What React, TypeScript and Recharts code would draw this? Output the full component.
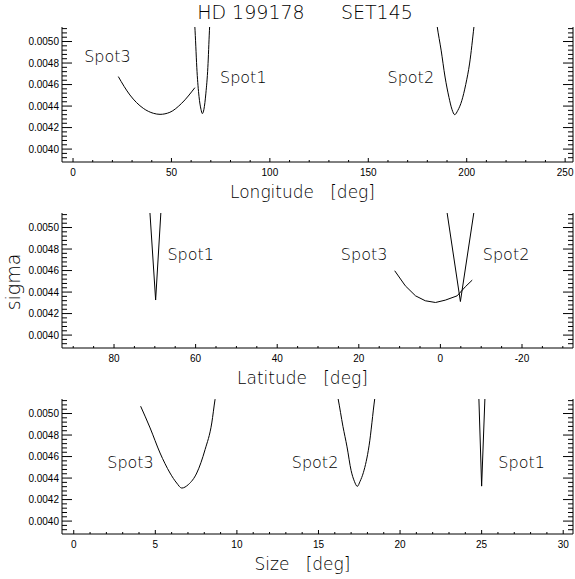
import React from 'react';
import { LineChart, Line, XAxis, YAxis, ReferenceDot } from 'recharts';

// sigma versus longitude, one curve per spot
const lonSpot1 = [61.0, 62.0, 63.0, 64.0, 65.0, 65.7, 66.5, 67.5, 68.5, 69.3, 70.0];
const lonSpot1Sigma = [0.0054, 0.0051, 0.00472, 0.00449, 0.00437, 0.00433, 0.00437, 0.00452, 0.00476, 0.0051, 0.00535];
const lonSpot2 = [183.5, 185.0, 187.0, 189.0, 191.0, 192.5, 193.9, 195.5, 197.5, 199.5, 201.5, 203.7, 205.0];
const lonSpot2Sigma = [0.00535, 0.00514, 0.00492, 0.00467, 0.00448, 0.00437, 0.00432, 0.00436, 0.00445, 0.0046, 0.0048, 0.00514, 0.00535];
const lonSpot3 = [23.0, 28.9, 35.7, 40.8, 44.2, 49.2, 55.2, 61.9];
const lonSpot3Sigma = [0.004674, 0.004503, 0.004379, 0.004333, 0.004323, 0.004342, 0.004426, 0.004571];

// sigma versus latitude
const latSpot1 = [71.8, 69.8, 68.2];
const latSpot1Sigma = [0.00549, 0.004326, 0.00534];
const latSpot2 = [-1.0, -4.9, -9.0];
const latSpot2Sigma = [0.0053, 0.004312, 0.00534];
const latSpot3 = [11.2, 8.6, 6.1, 3.7, 1.2, -1.2, -4.1, -6.1, -7.8];
const latSpot3Sigma = [0.004598, 0.004458, 0.004365, 0.004319, 0.004303, 0.004325, 0.004365, 0.004449, 0.004511];

// sigma versus spot size
const sizeSpot1 = [24.75, 25.0, 25.25];
const sizeSpot1Sigma = [0.00553, 0.004325, 0.00534];
const sizeSpot2 = [15.9, 16.2, 16.5, 16.75, 17.0, 17.2, 17.38, 17.55, 17.75, 18.1, 18.45, 18.7];
const sizeSpot2Sigma = [0.00535, 0.00514, 0.00488, 0.00469, 0.00447, 0.00437, 0.004323, 0.00437, 0.00445, 0.0047, 0.00514, 0.0054];
const sizeSpot3 = [4.1, 4.68, 5.29, 5.9, 6.31, 6.62, 7.02, 7.54, 8.05, 8.46, 8.66, 8.9];
const sizeSpot3Sigma = [0.005068, 0.004866, 0.004633, 0.004447, 0.004354, 0.004307, 0.004339, 0.004447, 0.004665, 0.004912, 0.00513, 0.0053];

// axis ranges and tick labels
const sigmaDomain: [number, number] = [0.00388, 0.005135];
const sigmaMajor = [0.004, 0.0042, 0.0044, 0.0046, 0.0048, 0.005];
const lonDomain: [number, number] = [-5.6, 254];
const lonMajor = [0, 50, 100, 150, 200, 250];
const latDomain: [number, number] = [-32.5, 92.75];
const latMajor = [-20, 0, 20, 40, 60, 80];
const sizeDomain: [number, number] = [-0.72, 30.6];
const sizeMajor = [0, 5, 10, 15, 20, 25, 30];

const W = 575;
const H = 207;
const STEP = 186;
const INK = '#000';
const LABEL_FONT = '"DejaVu Sans", sans-serif';
const LABEL_WEIGHT = 200;
const TICK_FONT = '"Liberation Sans", Arial, sans-serif';

const steps = (start: number, end: number, step: number) =>
  Array.from({ length: Math.round((end - start) / step) + 1 }, (_, i) => +(start + i * step).toFixed(8));

const isMajor = (v: number, majors: number[]) => majors.some((m) => Math.abs(m - v) < 1e-9);

const toPoints = (xs: number[], ss: number[]) => xs.map((x, i) => ({ x, s: ss[i] }));

const sigmaTicks = steps(0.00392, 0.00512, 0.00004);

type Side = 'bottom' | 'top' | 'left' | 'right';

// IDL-style ticks: drawn inward from the frame, labels only on bottom/left majors
const makeTick = (side: Side, majors: number[], fmt?: (v: number) => string) => (props: any) => {
  const { x, y, payload } = props;
  const major = isMajor(payload.value, majors);
  const vertical = side === 'left' || side === 'right';
  const len = vertical ? (major ? 10 : 5) : major ? 4 : 2;
  let x2 = x;
  let y2 = y;
  if (side === 'bottom') y2 = y - len;
  if (side === 'top') y2 = y + len;
  if (side === 'left') x2 = x + len;
  if (side === 'right') x2 = x - len;
  return (
    <g>
      <line x1={x} y1={y} x2={x2} y2={y2} stroke={INK} strokeWidth={1} />
      {major && fmt && side === 'bottom' && (
        <text x={x} y={y + 14} textAnchor="middle" fontFamily={TICK_FONT} fontSize={10} fill={INK}>
          {fmt(payload.value)}
        </text>
      )}
      {major && fmt && side === 'left' && (
        <text x={x - 3} y={y + 3.5} textAnchor="end" fontFamily={TICK_FONT} fontSize={10} fill={INK}>
          {fmt(payload.value)}
        </text>
      )}
    </g>
  );
};

const sigmaFmt = (v: number) => v.toFixed(4);
const intFmt = (v: number) => String(Math.round(v));

interface SpotLabel {
  x: number;
  s: number;
  text: string;
}

interface Curve {
  points: { x: number; s: number }[];
  smooth?: boolean;
}

interface PanelProps {
  top: number;
  xDomain: [number, number];
  reversed?: boolean;
  xMajor: number[];
  xTicks: number[];
  curves: Curve[];
  labels: SpotLabel[];
  xTitle: string;
  yTitle?: string;
}

const Panel = ({ top, xDomain, reversed, xMajor, xTicks, curves, labels, xTitle, yTitle }: PanelProps) => {
  const axisCommon = {
    type: 'number' as const,
    allowDataOverflow: true,
    interval: 0 as const,
    tickSize: 0,
    tickMargin: 0,
    tickLine: false,
    axisLine: { stroke: INK, strokeWidth: 1 },
  };
  return (
    <div style={{ position: 'absolute', left: 0, top, width: W, height: H }}>
      <LineChart width={W} height={H} margin={{ top: 27, right: 0, bottom: 0, left: 0 }}>
        <XAxis
          {...axisCommon}
          xAxisId="b"
          dataKey="x"
          domain={xDomain}
          reversed={reversed}
          ticks={xTicks}
          height={45}
          tick={makeTick('bottom', xMajor, intFmt)}
          label={{
            content: (p: any) => (
              <text
                x={p.viewBox.x + p.viewBox.width / 2 - 15}
                y={p.viewBox.y + 35.5}
                textAnchor="middle"
                fontFamily={LABEL_FONT}
                fontWeight={LABEL_WEIGHT}
                fontSize={17}
                fill={INK}
              >
                {xTitle}
              </text>
            ),
          }}
        />
        <XAxis
          {...axisCommon}
          xAxisId="t"
          orientation="top"
          dataKey="x"
          domain={xDomain}
          reversed={reversed}
          ticks={xTicks}
          height={0}
          tick={makeTick('top', xMajor)}
        />
        <YAxis
          {...axisCommon}
          yAxisId="l"
          domain={sigmaDomain}
          ticks={sigmaTicks}
          width={62}
          tick={makeTick('left', sigmaMajor, sigmaFmt)}
          label={
            yTitle
              ? {
                  content: (p: any) => {
                    const cx = p.viewBox.x + 19.5;
                    const cy = p.viewBox.y + p.viewBox.height / 2 + 1.5;
                    return (
                      <text
                        x={cx}
                        y={cy}
                        transform={`rotate(-90, ${cx}, ${cy})`}
                        textAnchor="middle"
                        fontFamily={LABEL_FONT}
                        fontWeight={LABEL_WEIGHT}
                        fontSize={19}
                        fill={INK}
                      >
                        {yTitle}
                      </text>
                    );
                  },
                }
              : undefined
          }
        />
        <YAxis
          {...axisCommon}
          yAxisId="r"
          orientation="right"
          domain={sigmaDomain}
          ticks={sigmaTicks}
          width={2}
          tick={makeTick('right', sigmaMajor)}
        />
        {curves.map((c, i) => (
          <Line
            key={i}
            xAxisId="b"
            yAxisId="l"
            data={c.points}
            dataKey="s"
            type={c.smooth ? 'monotone' : 'linear'}
            stroke={INK}
            strokeWidth={1}
            dot={false}
            activeDot={false}
            isAnimationActive={false}
          />
        ))}
        {labels.map((l) => (
          <ReferenceDot
            key={l.text}
            xAxisId="b"
            yAxisId="l"
            x={l.x}
            y={l.s}
            r={0}
            fill="none"
            stroke="none"
            label={{
              value: l.text,
              position: 'center',
              fill: INK,
              fontSize: 16,
              fontFamily: LABEL_FONT,
              fontWeight: LABEL_WEIGHT,
            }}
          />
        ))}
      </LineChart>
    </div>
  );
};

const nb = (n: number) => '\u00a0'.repeat(n);

export default function App() {
  return (
    <div style={{ position: 'absolute', left: 0, top: 0, width: W, height: 579, background: '#fff' }}>
      <Panel
        top={0}
        xDomain={lonDomain}
        xMajor={lonMajor}
        xTicks={steps(0, 250, 10)}
        curves={[
          { points: toPoints(lonSpot3, lonSpot3Sigma), smooth: true },
          { points: toPoints(lonSpot1, lonSpot1Sigma), smooth: true },
          { points: toPoints(lonSpot2, lonSpot2Sigma), smooth: true },
        ]}
        labels={[
          { x: 17.5, s: 0.004865, text: 'Spot3' },
          { x: 86.5, s: 0.004666, text: 'Spot1' },
          { x: 171.6, s: 0.004664, text: 'Spot2' },
        ]}
        xTitle={`Longitude${nb(3)}[deg]`}
      />
      <Panel
        top={STEP}
        xDomain={latDomain}
        reversed
        xMajor={latMajor}
        xTicks={steps(-30, 90, 5)}
        curves={[
          { points: toPoints(latSpot1, latSpot1Sigma) },
          { points: toPoints(latSpot3, latSpot3Sigma) },
          { points: toPoints(latSpot2, latSpot2Sigma) },
        ]}
        labels={[
          { x: 61.2, s: 0.004749, text: 'Spot1' },
          { x: 18.7, s: 0.004749, text: 'Spot3' },
          { x: -16.1, s: 0.004749, text: 'Spot2' },
        ]}
        xTitle={`Latitude${nb(3)}[deg]`}
        yTitle="sigma"
      />
      <Panel
        top={STEP * 2}
        xDomain={sizeDomain}
        xMajor={sizeMajor}
        xTicks={steps(0, 30, 1)}
        curves={[
          { points: toPoints(sizeSpot3, sizeSpot3Sigma), smooth: true },
          { points: toPoints(sizeSpot2, sizeSpot2Sigma), smooth: true },
          { points: toPoints(sizeSpot1, sizeSpot1Sigma) },
        ]}
        labels={[
          { x: 3.48, s: 0.004547, text: 'Spot3' },
          { x: 14.79, s: 0.004547, text: 'Spot2' },
          { x: 27.45, s: 0.004547, text: 'Spot1' },
        ]}
        xTitle={`Size${nb(3)}[deg]`}
      />
      <svg width={W} height={27} style={{ position: 'absolute', left: 0, top: 0, pointerEvents: 'none' }}>
        <text x={305} y={19} textAnchor="middle" fontFamily={LABEL_FONT} fontWeight={LABEL_WEIGHT} fontSize={19} fill={INK}>
          {`HD 199178${nb(6)}SET145`}
        </text>
      </svg>
    </div>
  );
}
